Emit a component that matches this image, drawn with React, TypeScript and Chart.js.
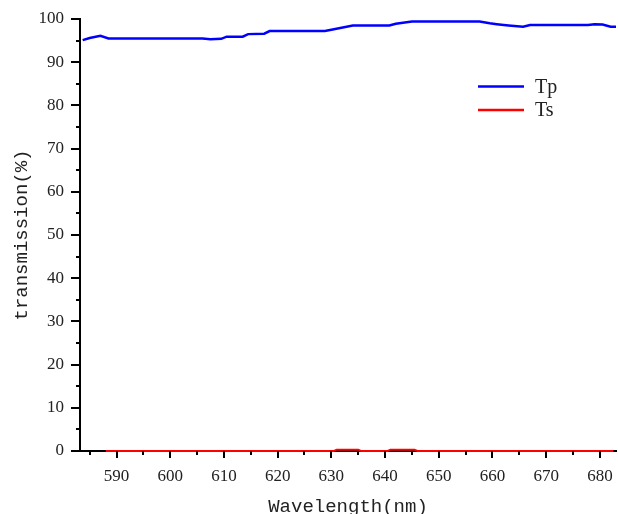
import React, { useEffect, useRef } from "react";
import { Chart, registerables } from "chart.js";

Chart.register(...registerables);

const tpWavelength = [583.7, 585, 587, 588.5, 595, 600, 606, 607.5, 609.5, 610.5, 613.5, 614.5, 617.5, 618.5, 628.8, 630, 634, 640.8, 642, 645, 650, 657.6, 659.5, 660.8, 663, 665.7, 667, 677.8, 679, 680.5, 682, 683];
const tpValues = [95.1, 95.6, 96.1, 95.5, 95.5, 95.5, 95.5, 95.3, 95.4, 95.9, 95.9, 96.5, 96.6, 97.2, 97.2, 97.5, 98.5, 98.5, 98.9, 99.4, 99.4, 99.4, 99.0, 98.8, 98.5, 98.2, 98.6, 98.6, 98.8, 98.7, 98.2, 98.2];

const tsWavelength = [588, 630.5, 631, 635, 635.5, 640.5, 641, 645.5, 646, 682.5];
const tsValues = [0, 0, 0.3, 0.3, 0, 0, 0.3, 0.3, 0, 0];

const xTickLabels = [590, 600, 610, 620, 630, 640, 650, 660, 670, 680];
const yTickLabels = [0, 10, 20, 30, 40, 50, 60, 70, 80, 90, 100];
const xMinorTicks = [585, 595, 605, 615, 625, 635, 645, 655, 665, 675];
const yMinorTicks = [5, 15, 25, 35, 45, 55, 65, 75, 85, 95];

const seriesNames = ["Tp", "Ts"];
const seriesColors = ["#0000ff", "#ff0000"];

const tickPlugin = {
  id: "tickMarks",
  afterDraw(chart: any) {
    const ctx = chart.ctx;
    const xs = chart.scales.x;
    const ys = chart.scales.y;
    const axisY = chart.chartArea.bottom;
    const axisX = chart.chartArea.left;
    ctx.save();
    ctx.strokeStyle = "#000";
    ctx.lineWidth = 2;
    ctx.beginPath();
    xTickLabels.forEach((v) => {
      const p = Math.round(xs.getPixelForValue(v));
      ctx.moveTo(p, axisY);
      ctx.lineTo(p, axisY + 7);
    });
    xMinorTicks.forEach((v) => {
      const p = Math.round(xs.getPixelForValue(v));
      ctx.moveTo(p, axisY);
      ctx.lineTo(p, axisY + 4);
    });
    yTickLabels.forEach((v) => {
      const p = Math.round(ys.getPixelForValue(v));
      ctx.moveTo(axisX, p);
      ctx.lineTo(axisX - 9, p);
    });
    yMinorTicks.forEach((v) => {
      const p = Math.round(ys.getPixelForValue(v));
      ctx.moveTo(axisX, p);
      ctx.lineTo(axisX - 4, p);
    });
    ctx.stroke();

    // legend
    const lx0 = 478, lx1 = 524, ly = [86.5, 110];
    chart.data.datasets.forEach((ds: any, i: number) => {
      ctx.beginPath();
      ctx.strokeStyle = ds.borderColor;
      ctx.lineWidth = 2.5;
      ctx.moveTo(lx0, ly[i]);
      ctx.lineTo(lx1, ly[i]);
      ctx.stroke();
      ctx.fillStyle = "#222";
      ctx.font = "20px 'Liberation Serif'";
      ctx.textBaseline = "middle";
      ctx.textAlign = "left";
      ctx.fillText(ds.label, 535, ly[i] + 1);
    });
    ctx.restore();
  },
};

export default function App() {
  const ref = useRef<HTMLCanvasElement>(null);
  useEffect(() => {
    if (!ref.current) return;
    const chart = new Chart(ref.current, {
      type: "line",
      data: {
        datasets: [
          {
            label: seriesNames[0],
            data: tpWavelength.map((x, i) => ({ x, y: tpValues[i] })),
            borderColor: seriesColors[0],
            backgroundColor: seriesColors[0],
            borderWidth: 2.5,
            pointRadius: 0,
            tension: 0,
            clip: false as any,
          },
          {
            label: seriesNames[1],
            data: tsWavelength.map((x, i) => ({ x, y: tsValues[i] })),
            borderColor: seriesColors[1],
            backgroundColor: seriesColors[1],
            borderWidth: 2,
            pointRadius: 0,
            tension: 0,
            clip: false as any,
          },
        ],
      },
      options: {
        animation: false,
        responsive: false,
        maintainAspectRatio: false,
        layout: { padding: { left: 0, right: 2, top: 19, bottom: 0 } },
        plugins: { legend: { display: false }, tooltip: { enabled: false } },
        scales: {
          x: {
            type: "linear",
            min: 583.2,
            max: 683,
            afterFit: (s: any) => {
              s.height = 63;
              s.paddingLeft = 0;
              s.paddingRight = 0;
            },
            afterBuildTicks: (s: any) => {
              s.ticks = xTickLabels.map((v) => ({ value: v }));
            },
            grid: { display: true, drawOnChartArea: false, drawTicks: false },
            border: { display: true, color: "#000", width: 2 },
            ticks: {
              padding: 15,
              color: "#222",
              font: { family: "'Liberation Serif'", size: 17 },
              maxRotation: 0,
              autoSkip: false,
            },
            title: {
              display: true,
              text: "Wavelength(nm)",
              color: "#222",
              font: { family: "'Liberation Mono'", size: 19, lineHeight: 1 },
              padding: { top: 0, bottom: -2.5 },
            },
          },
          y: {
            type: "linear",
            min: 0,
            max: 100,
            afterFit: (s: any) => {
              s.width = 80;
              s.paddingTop = 0;
              s.paddingBottom = 0;
            },
            afterBuildTicks: (s: any) => {
              s.ticks = yTickLabels.map((v) => ({ value: v }));
            },
            grid: { display: true, drawOnChartArea: false, drawTicks: false },
            border: { display: true, color: "#000", width: 2 },
            ticks: {
              padding: 16,
              color: "#222",
              font: { family: "'Liberation Serif'", size: 17 },
              autoSkip: false,
            },
            title: {
              display: true,
              text: "transmission(%)",
              color: "#222",
              font: { family: "'Liberation Mono'", size: 19, lineHeight: 1 },
              padding: { top: 12, bottom: 0 },
            },
          },
        },
      },
      plugins: [tickPlugin],
    });
    return () => chart.destroy();
  }, []);
  return (
    <div style={{ position: "fixed", left: 0, top: 0, width: 618, height: 514, background: "#fff" }}>
      <canvas ref={ref} width={618} height={514} style={{ width: 618, height: 514 }} />
    </div>
  );
}
